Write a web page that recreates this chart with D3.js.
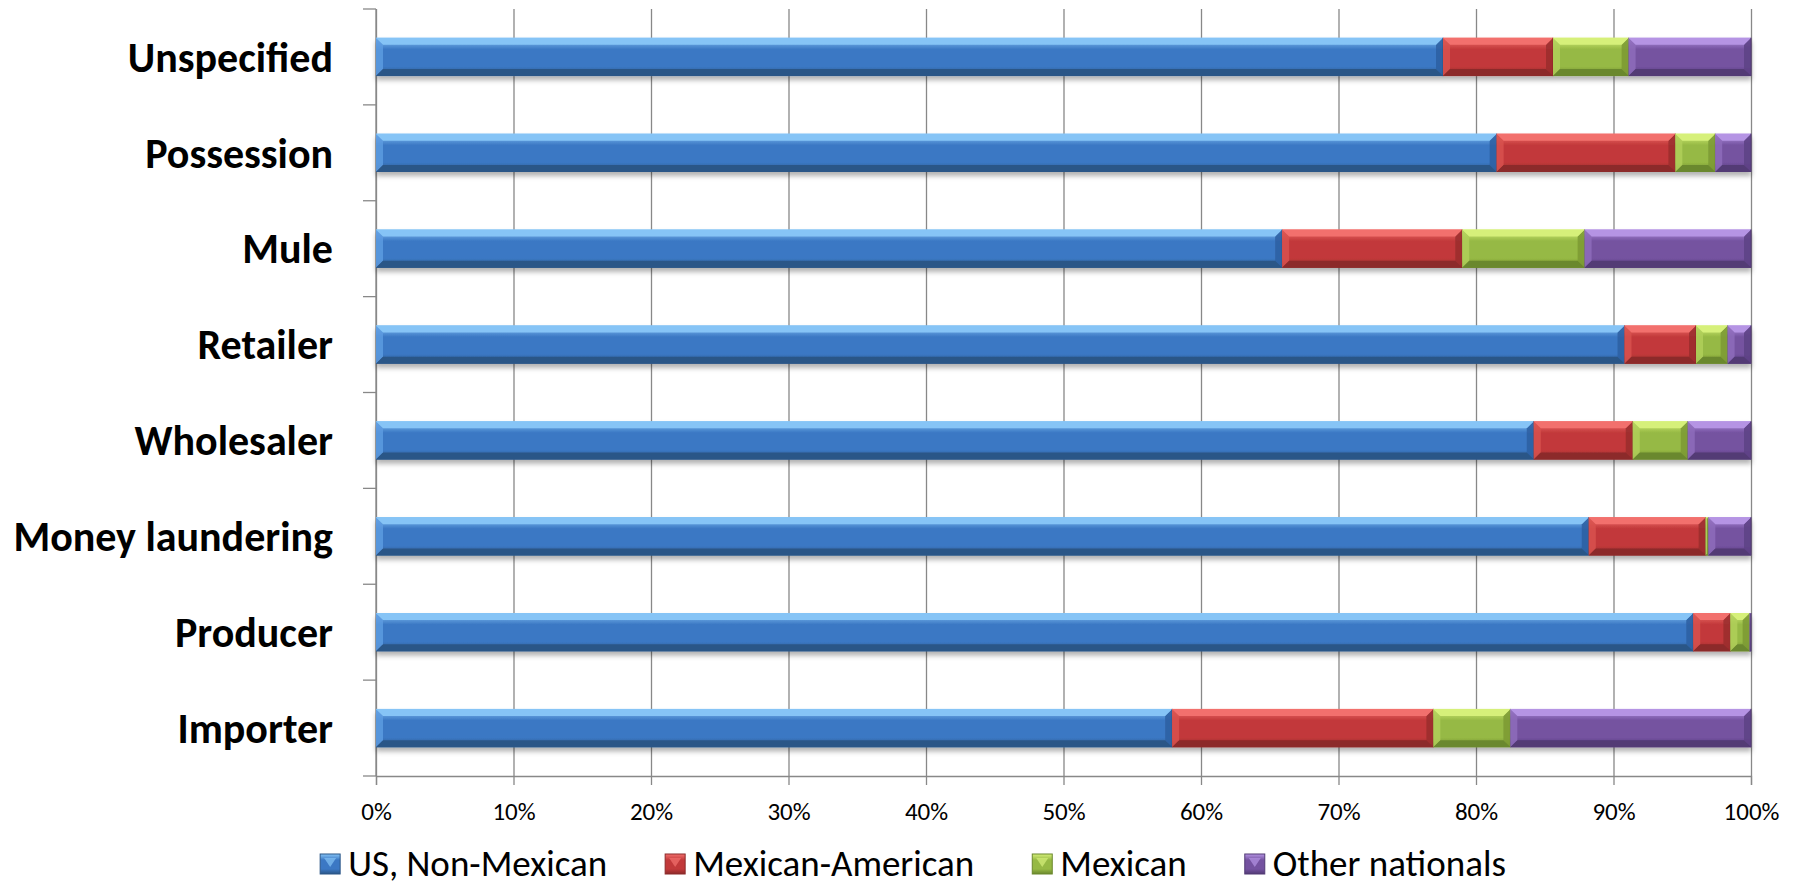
<!DOCTYPE html>
<html>
<head>
<meta charset="utf-8">
<script src="https://cdn.jsdelivr.net/npm/d3@7"></script>
<style>
  body { margin: 0; background: #fff; }
  svg { display: block; }
</style>
</head>
<body>
<script>
// categories read top to bottom
const categories = ["Unspecified", "Possession", "Mule", "Retailer", "Wholesaler", "Money laundering", "Producer", "Importer"];
const seriesNames = ["US, Non-Mexican", "Mexican-American", "Mexican", "Other nationals"];

// shares in percent
const usNonMexican    = [77.6, 81.5, 65.9, 90.8, 84.2, 88.2, 95.8, 57.9];
const mexicanAmerican = [8.0, 13.0, 13.1, 5.2, 7.2, 8.5, 2.7, 19.0];
const mexican         = [5.5, 2.9, 8.9, 2.3, 4.0, 0.2, 1.4, 5.6];
const otherNationals  = [8.9, 2.6, 12.1, 1.7, 4.6, 3.1, 0.1, 17.5];

const xTickValues = [0, 10, 20, 30, 40, 50, 60, 70, 80, 90, 100];

// colour sets per series: base, top light, bottom dark, left facet, right facet
const palette = [
  { base: "#3b78c4", light: "#86c4f6", dark: "#2b5687", left: "#5d9be0", right: "#2f62a4" },
  { base: "#c2393a", light: "#f2706d", dark: "#8c2a2a", left: "#d8524f", right: "#9c2f2f" },
  { base: "#96b944", light: "#d6f07a", dark: "#6b882d", left: "#b0cf5b", right: "#7d9b35" },
  { base: "#7452a0", light: "#b594e4", dark: "#523a75", left: "#8e6cbb", right: "#5e4386" }
];

const W = 1796, H = 889;
const margin = { top: 9, right: 45, bottom: 113, left: 376 };
const plotW = W - margin.left - margin.right;
const plotH = H - margin.top - margin.bottom;

const table = categories.map((c, i) => ({
  category: c,
  [seriesNames[0]]: usNonMexican[i],
  [seriesNames[1]]: mexicanAmerican[i],
  [seriesNames[2]]: mexican[i],
  [seriesNames[3]]: otherNationals[i]
}));

const stacked = d3.stack().keys(seriesNames)(table);

const svg = d3.select("body").append("svg")
  .attr("width", W)
  .attr("height", H)
  .style("font-family", "Carlito, Lato, 'Open Sans', sans-serif");

const defs = svg.append("defs");
const shadow = defs.append("filter").attr("id", "shadow")
  .attr("x", "-5%").attr("y", "-30%").attr("width", "110%").attr("height", "180%");
shadow.append("feDropShadow")
  .attr("dx", 0).attr("dy", 4).attr("stdDeviation", 2.5)
  .attr("flood-color", "#000").attr("flood-opacity", 0.3);

palette.forEach((p, i) => {
  const g = defs.append("linearGradient").attr("id", "grad" + i)
    .attr("x1", 0).attr("y1", 0).attr("x2", 0).attr("y2", 1);
  g.append("stop").attr("offset", "0%").attr("stop-color", p.light);
  g.append("stop").attr("offset", "30%").attr("stop-color", p.base);
  g.append("stop").attr("offset", "75%").attr("stop-color", p.base);
  g.append("stop").attr("offset", "100%").attr("stop-color", p.dark);
});

const chart = svg.append("g").attr("transform", `translate(${margin.left},${margin.top})`);

const x = d3.scaleLinear().domain([0, 100]).range([0, plotW]);
const y = d3.scaleBand().domain(categories).range([0, plotH])
  .paddingInner(0.6).paddingOuter(0.3);

// vertical gridlines
chart.append("g")
  .call(d3.axisBottom(x).tickValues(xTickValues).tickSize(plotH).tickFormat(""))
  .call(g => g.select(".domain").remove())
  .call(g => g.selectAll("line").attr("stroke", "#888").attr("stroke-width", 1.3));

// bottom axis
chart.append("g")
  .attr("transform", `translate(0,${plotH})`)
  .call(d3.axisBottom(x).tickValues(xTickValues).tickSize(9).tickPadding(17).tickFormat(d => d + "%"))
  .call(g => g.select(".domain").attr("stroke", "#888").attr("stroke-width", 1.3))
  .call(g => g.selectAll("line").attr("stroke", "#888").attr("stroke-width", 1.3))
  .call(g => g.selectAll("text").attr("fill", "#000").style("font-size", "25px")
    .style("font-family", "Carlito, Lato, sans-serif"));

// left axis: line, ticks between categories, labels
const yAxis = chart.append("g");
yAxis.append("line").attr("x1", 0).attr("x2", 0).attr("y1", 0).attr("y2", plotH)
  .attr("stroke", "#888").attr("stroke-width", 1.3);
yAxis.selectAll(".cat-tick").data(d3.range(categories.length + 1)).join("line")
  .attr("class", "cat-tick")
  .attr("x1", -13).attr("x2", 0)
  .attr("y1", i => i * y.step()).attr("y2", i => i * y.step())
  .attr("stroke", "#888").attr("stroke-width", 1.3);
yAxis.selectAll(".cat-label").data(categories).join("text")
  .attr("class", "cat-label")
  .attr("x", -43)
  .attr("y", d => y(d) + y.bandwidth() / 2)
  .attr("dy", "0.35em")
  .attr("text-anchor", "end")
  .style("font-size", "42px")
  .style("font-weight", "bold")
  .text(d => d);

// bevelled segment shape
function bevelSegments(sel, i) {
  const p = palette[i];
  sel.each(function (d) {
    const g = d3.select(this);
    const x0 = x(d[0]), x1 = x(d[1]);
    const w = x1 - x0;
    if (w <= 0) return;
    const y0 = y(d.data.category), h = y.bandwidth();
    const b = Math.min(7, w / 2);
    g.append("rect").attr("x", x0).attr("y", y0).attr("width", w).attr("height", h)
      .attr("fill", `url(#grad${i})`);
    // left facet
    g.append("polygon")
      .attr("points", [[x0, y0], [x0 + b, y0 + b], [x0 + b, y0 + h - b], [x0, y0 + h]].join(" "))
      .attr("fill", p.left).attr("opacity", 0.85);
    // right facet
    g.append("polygon")
      .attr("points", [[x1, y0], [x1 - b, y0 + b], [x1 - b, y0 + h - b], [x1, y0 + h]].join(" "))
      .attr("fill", p.right).attr("opacity", 0.9);
    // top facet
    g.append("polygon")
      .attr("points", [[x0, y0], [x1, y0], [x1 - b, y0 + b], [x0 + b, y0 + b]].join(" "))
      .attr("fill", p.light);
    // bottom facet
    g.append("polygon")
      .attr("points", [[x0, y0 + h], [x1, y0 + h], [x1 - b, y0 + h - b], [x0 + b, y0 + h - b]].join(" "))
      .attr("fill", p.dark);
    g.append("line").attr("x1", x1).attr("x2", x1).attr("y1", y0).attr("y2", y0 + h)
      .attr("stroke", p.dark).attr("stroke-width", 1);
  });
}

const barLayer = chart.append("g").attr("filter", "url(#shadow)");
stacked.forEach((s, i) => {
  barLayer.append("g")
    .selectAll("g").data(s).join("g")
    .call(sel => bevelSegments(sel, i));
});

// legend
const legend = svg.append("g");
const legendY = 863;
const items = legend.selectAll("g").data(seriesNames).join("g");
items.append("rect")
  .attr("width", 20).attr("height", 20).attr("y", -9)
  .attr("fill", (d, i) => `url(#grad${i})`)
  .attr("stroke", (d, i) => palette[i].dark).attr("stroke-width", 1);
items.append("path")
  .attr("d", "M4,-5 L16,-5 L10,4 Z")
  .attr("fill", (d, i) => palette[i].light).attr("opacity", 0.7);
items.append("text")
  .attr("x", 28).attr("dy", "0.35em")
  .style("font-size", "37px")
  .text(d => d);

let cursor = 0;
const widths = [];
items.each(function () {
  widths.push(d3.select(this).select("text").node().getComputedTextLength() + 28);
});
const gap = 58;
const total = d3.sum(widths) + gap * (widths.length - 1);
const startX = W / 2 + 15 - total / 2;
items.attr("transform", (d, i) => {
  const tx = startX + cursor;
  cursor += widths[i] + gap;
  return `translate(${tx},${legendY})`;
});
</script>
</body>
</html>
